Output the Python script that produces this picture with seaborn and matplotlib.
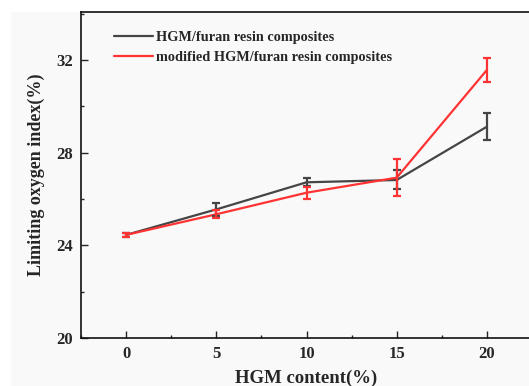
import numpy as np
import pandas as pd
import seaborn as sns
import matplotlib
matplotlib.use("Agg")
import matplotlib.pyplot as plt
from matplotlib.patches import Rectangle
from matplotlib.ticker import MultipleLocator

# HGM loading (%) and limiting oxygen index (%) with standard deviations
hgm_content = [0, 5, 10, 15, 20]
loi_plain = [24.45, 25.55, 26.72, 26.82, 29.12]
err_plain = [0.10, 0.28, 0.18, 0.41, 0.58]
loi_modified = [24.45, 25.34, 26.27, 26.92, 31.57]
err_modified = [0.10, 0.17, 0.25, 0.80, 0.52]
series_names = ["HGM/furan resin composites", "modified HGM/furan resin composites"]
series_colors = ["#454545", "#ff3333"]
y_ticks = [20, 24, 28, 32]
x_ticks = [0, 5, 10, 15, 20]

df = pd.DataFrame({
    "content": hgm_content * 2,
    "loi": loi_plain + loi_modified,
    "err": err_plain + err_modified,
    "series": [series_names[0]] * 5 + [series_names[1]] * 5,
})

sns.set_style("ticks")
plt.rcParams["font.family"] = ["Liberation Serif", "DejaVu Serif"]
plt.rcParams["font.weight"] = "bold"

bg = "#f9f9f9"
fig = plt.figure(figsize=(5.29, 3.86), dpi=100, facecolor=bg)
# thin white margin along the left and top edges
fig.patches.append(Rectangle((0, 0), 10 / 529, 1, transform=fig.transFigure,
                             color="white", zorder=-10))
fig.patches.append(Rectangle((0, (386 - 11) / 386), 1, 11 / 386,
                             transform=fig.transFigure, color="white", zorder=-10))
ax = fig.add_axes([81 / 529, 48 / 386, 451 / 529, 326 / 386])
ax.set_facecolor(bg)

sns.lineplot(data=df, x="content", y="loi", hue="series", hue_order=series_names,
             palette=series_colors, linewidth=1.6, ax=ax, errorbar=None)

for name, color in zip(series_names, series_colors):
    sub = df[df["series"] == name]
    ax.errorbar(sub["content"], sub["loi"], yerr=sub["err"], fmt="none",
                ecolor=color, elinewidth=1.6, capsize=3.2, capthick=1.6)

ax.set_xlim(-2.5, 22.5)
ax.set_ylim(20, 34.07)
ax.set_xticks(x_ticks)
ax.set_yticks(y_ticks)
ax.xaxis.set_minor_locator(MultipleLocator(2.5))
ax.yaxis.set_minor_locator(MultipleLocator(2))
ax.tick_params(which="major", direction="in", length=5, width=1, labelsize=12, pad=6)
ax.tick_params(which="minor", direction="in", length=2.5, width=1)
for lbl in ax.get_xticklabels() + ax.get_yticklabels():
    lbl.set_fontweight("bold")
for side in ["left", "bottom", "top"]:
    ax.spines[side].set_linewidth(1.2)
    ax.spines[side].set_color("#111111")
ax.spines["right"].set_visible(False)

ax.set_xlabel("HGM content(%)", fontsize=13.5, fontweight="bold", labelpad=5)
ax.set_ylabel("Limiting oxygen index(%)", fontsize=13, fontweight="bold", labelpad=8)

leg = ax.legend(loc="upper left", bbox_to_anchor=(0.045, 0.98), frameon=False,
                fontsize=10.3, handlelength=2.7, handletextpad=0.2, labelspacing=0.45)
for t in leg.get_texts():
    t.set_fontweight("bold")

fig.savefig("out.png", dpi=100, facecolor=fig.get_facecolor())
